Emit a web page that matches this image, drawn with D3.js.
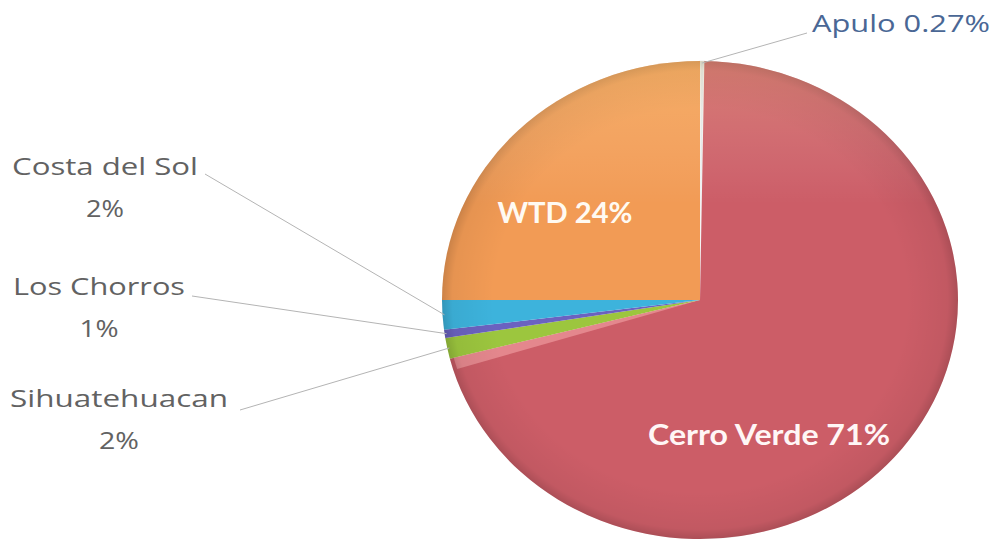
<!DOCTYPE html>
<html>
<head>
<meta charset="utf-8">
<script src="https://cdn.jsdelivr.net/npm/d3@7"></script>
<style>
  body { margin: 0; background: #fff; }
  svg { display: block; }
</style>
</head>
<body>
<div id="chart"></div>
<script>
// slice data, clockwise from 12 o'clock
var names = ["Apulo", "Cerro Verde", "Sihuatehuacan", "Los Chorros", "Costa del Sol", "WTD"]
var shares = [0.27, 70.8, 1.4, 0.55, 2.0, 25.0]
var pctLabels = ["0.27%", "71%", "2%", "1%", "2%", "24%"]
var colors = ["#e4e8ee", "#cc5d67", "#9cc63e", "#6b62c0", "#3db3dc", "#f29b55"]

var width = 1000, height = 548
var cx = 700, cy = 300, rx = 258, ry = 239
var font = "Lato, 'Open Sans', sans-serif"
var outFont = "'Open Sans', Lato, sans-serif"

var svg = d3.select("#chart").append("svg")
            .attr("width", width).attr("height", height)

var defs = svg.append("defs")
var shade = defs.append("radialGradient").attr("id", "shade")
                .attr("cx", "50%").attr("cy", "50%").attr("r", "50%")
shade.append("stop").attr("offset", "0.80").attr("stop-color", "#000").attr("stop-opacity", 0)
shade.append("stop").attr("offset", "0.96").attr("stop-color", "#000").attr("stop-opacity", 0.05)
shade.append("stop").attr("offset", "1").attr("stop-color", "#000").attr("stop-opacity", 0.16)

var glow = defs.append("linearGradient").attr("id", "glow")
               .attr("x1", 0).attr("y1", 0).attr("x2", 0).attr("y2", 1)
glow.append("stop").attr("offset", 0).attr("stop-color", "#ffe890").attr("stop-opacity", 0.22)
glow.append("stop").attr("offset", 0.3).attr("stop-color", "#fff").attr("stop-opacity", 0)

var pie = d3.pie().sort(null).value(function(d) { return d })
var arcs = pie(shares)
var arc = d3.arc().innerRadius(0).outerRadius(rx)

// pie drawn as a circle, squashed to the ellipse of the picture
var g = svg.append("g")
           .attr("transform", "translate(" + cx + "," + cy + ") scale(1," + (ry / rx) + ")")

g.selectAll(".slice")
 .data(arcs).enter()
 .append("path")
 .attr("class", "slice")
 .attr("d", arc)
 .attr("fill", function(d, i) { return colors[i] })
 .attr("stroke", function(d, i) { return i == 0 ? "#f4f4f4" : "none" })
 .attr("stroke-width", 1.5)

// soft bevel highlight on the edge of Cerro Verde next to the small slices
var cv = arcs[1]
g.append("path")
 .attr("d", d3.arc().innerRadius(0).outerRadius(rx - 4)
            .startAngle(cv.endAngle - 0.05).endAngle(cv.endAngle)())
 .attr("fill", "#f3a3a6").attr("opacity", 0.6)

g.append("ellipse").attr("rx", rx).attr("ry", rx).attr("fill", "url(#shade)")
g.append("ellipse").attr("rx", rx).attr("ry", rx).attr("fill", "url(#glow)")

// labels inside the big slices
svg.append("text")
   .attr("x", 565).attr("y", 223)
   .attr("text-anchor", "middle")
   .attr("font-family", font)
   .attr("font-weight", "bold").attr("font-size", 29)
   .attr("textLength", 135).attr("lengthAdjust", "spacingAndGlyphs")
   .attr("fill", "#fffaf2")
   .text(names[5] + " " + pctLabels[5])

svg.append("text")
   .attr("x", 769).attr("y", 445)
   .attr("text-anchor", "middle")
   .attr("font-family", font)
   .attr("font-weight", "bold").attr("font-size", 29)
   .attr("textLength", 242).attr("lengthAdjust", "spacingAndGlyphs")
   .attr("fill", "#fff6f6")
   .text(names[1] + " " + pctLabels[1])

// outside labels with leader lines
var outside = [
  {i: 0, tx: 901, ty: 32, w: 178, w2: 0, from: [807, 33]},
  {i: 4, tx: 105, ty: 175, w: 186, w2: 38, from: [205, 174]},
  {i: 3, tx: 99, ty: 295, w: 172, w2: 39, from: [192, 296]},
  {i: 2, tx: 119, ty: 407, w: 218, w2: 40, from: [240, 410]}
]

function label(x, y, txt, w, col) {
  svg.append("text")
     .attr("x", x).attr("y", y)
     .attr("text-anchor", "middle")
     .attr("font-family", outFont)
     .attr("font-size", 24).attr("fill", col)
     .attr("textLength", w).attr("lengthAdjust", "spacingAndGlyphs")
     .text(txt)
}

outside.forEach(function(o) {
  var a = arcs[o.i]
  var mid = (a.startAngle + a.endAngle) / 2
  var px = cx + Math.sin(mid) * (rx - 2)
  var py = cy - Math.cos(mid) * (ry - 2)
  svg.append("line")
     .attr("x1", o.from[0]).attr("y1", o.from[1])
     .attr("x2", px).attr("y2", py)
     .attr("stroke", "#b4b4b4").attr("stroke-width", 1)

  if (o.i == 0) {
    label(o.tx, o.ty, names[o.i] + " " + pctLabels[o.i], o.w, "#4a6795")
  } else {
    label(o.tx, o.ty, names[o.i], o.w, "#626262")
    label(o.tx, o.ty + 42, pctLabels[o.i], o.w2, "#626262")
  }
})
</script>
</body>
</html>
